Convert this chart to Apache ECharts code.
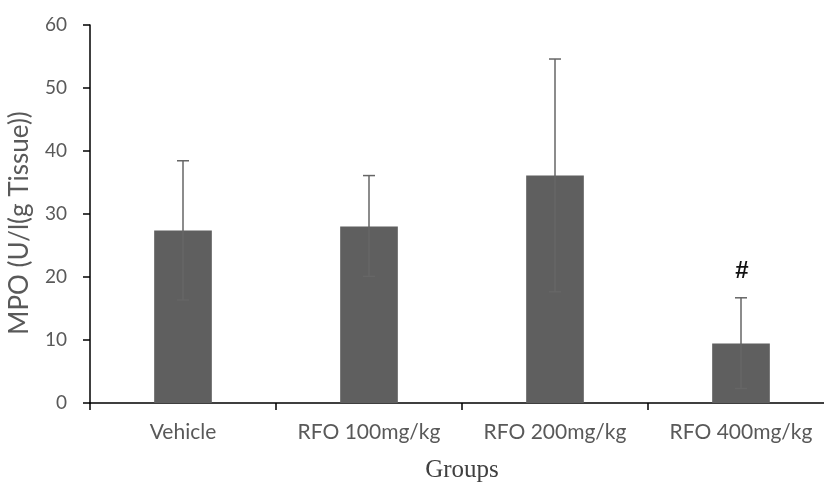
<!DOCTYPE html>
<html>
<head>
<meta charset="utf-8">
<script src="https://cdn.jsdelivr.net/npm/echarts@6/dist/echarts.min.js"></script>
<style>html,body{margin:0;padding:0;background:#fff;overflow:hidden;}#c{width:824px;height:484px;}</style>
</head>
<body>
<div id="c"></div>
<script>
var categories = ['Vehicle', 'RFO 100mg/kg', 'RFO 200mg/kg', 'RFO 400mg/kg'];
var means = [27.4, 28.0, 36.1, 9.45];
var errUpper = [38.45, 36.1, 54.6, 16.7];
var errLower = [16.35, 20.1, 17.65, 2.3];
var marks = ['', '', '', '#'];
var yTicks = [0, 10, 20, 30, 40, 50, 60];
var yTitle = 'MPO (U/l(g Tissue))';
var xTitle = 'Groups';

var chart = echarts.init(document.getElementById('c'));
var errData = categories.map(function (c, i) { return [i, errLower[i], errUpper[i], marks[i]]; });
chart.setOption({
  animation: false,
  grid: { left: 90, top: 25, bottom: 81, width: 744, containLabel: false, outerBoundsMode: 'none' },
  graphic: [{
    type: 'text', x: 20, y: 223, rotation: Math.PI / 2,
    style: { text: yTitle, font: '26px Lato', fill: '#595959', align: 'center', verticalAlign: 'middle' }
  }],
  xAxis: {
    type: 'category',
    data: categories,
    name: xTitle,
    nameLocation: 'middle',
    nameGap: 55,
    nameTextStyle: { fontFamily: 'Liberation Serif', fontSize: 25, color: '#404040' },
    axisLine: { lineStyle: { color: '#000', width: 1.5 } },
    axisTick: { show: true, length: 7, lineStyle: { color: '#000', width: 1.5 } },
    axisLabel: { fontFamily: 'Lato', fontSize: 21, color: '#595959', margin: 19 }
  },
  yAxis: {
    type: 'value',
    min: yTicks[0],
    max: yTicks[yTicks.length - 1],
    interval: 10,
    axisLine: { show: true, lineStyle: { color: '#000', width: 1.5 } },
    axisTick: { show: true, length: 7, lineStyle: { color: '#000', width: 1.5 } },
    splitLine: { show: false },
    axisLabel: { fontFamily: 'Lato', fontSize: 19, color: '#595959', margin: 23 }
  },
  series: [
    {
      type: 'bar',
      data: means,
      barWidth: '31%',
      itemStyle: { color: '#5f5f5f' }
    },
    {
      type: 'custom',
      data: errData,
      z: 10,
      renderItem: function (params, api) {
        var i = api.value(0);
        var lo = api.coord([i, api.value(1)]);
        var hi = api.coord([i, api.value(2)]);
        var hw = 6;
        var style = { stroke: '#666666', lineWidth: 1.5 };
        var children = [
          { type: 'line', shape: { x1: hi[0], y1: hi[1], x2: lo[0], y2: lo[1] }, style: style },
          { type: 'line', shape: { x1: hi[0] - hw, y1: hi[1], x2: hi[0] + hw, y2: hi[1] }, style: style },
          { type: 'line', shape: { x1: lo[0] - hw, y1: lo[1], x2: lo[0] + hw, y2: lo[1] }, style: style }
        ];
        var m = marks[params.dataIndex];
        if (m) {
          children.push({ type: 'text', x: hi[0] + 1, y: hi[1] - 26, style: { text: m, fill: '#111', font: 'bold 24px Liberation Sans', align: 'center', verticalAlign: 'middle' } });
        }
        return { type: 'group', children: children };
      }
    }
  ]
});
</script>
</body>
</html>
